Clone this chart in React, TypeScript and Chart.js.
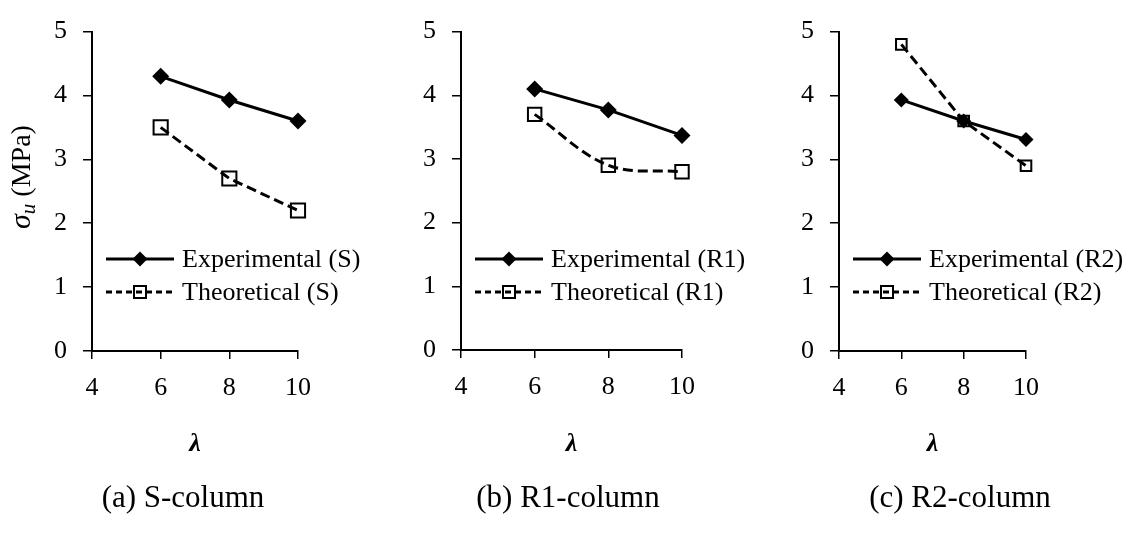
import React, { useEffect, useRef } from 'react';
import { Chart, registerables } from 'chart.js';

Chart.register(...registerables);

// ---- data ----
const lambdaValues = [6, 8, 10];
const xTickValues = [4, 6, 8, 10];
const yTickValues = [0, 1, 2, 3, 4, 5];

const expS = [4.3, 3.93, 3.6];
const theoS = [3.5, 2.7, 2.2];
const expR1 = [4.1, 3.77, 3.37];
const theoR1 = [3.7, 2.9, 2.8];
const expR2 = [3.93, 3.6, 3.31];
const theoR2 = [4.8, 3.6, 2.9];

const seriesNamesS = ['Experimental (S)', 'Theoretical (S)'];
const seriesNamesR1 = ['Experimental (R1)', 'Theoretical (R1)'];
const seriesNamesR2 = ['Experimental (R2)', 'Theoretical (R2)'];

const captions = ['(a) S-column', '(b) R1-column', '(c) R2-column'];
const xAxisTitle = 'λ';
const yTitleSymbol = 'σ';
const yTitleSub = 'u';
const yTitleUnit = ' (MPa)';

const FONT = "'Liberation Serif', 'Times New Roman', serif";

type PanelCfg = {
  left: number;
  axisLeft: number;
  axisRight: number;
  axisTop: number;
  axisBottom: number;
  exp: number[];
  theo: number[];
  names: string[];
  caption: string;
  captionX: number;
  sqR: number;
  diaR: number;
  theoTension: number;
  yTitle: boolean;
};

const panels: PanelCfg[] = [
  { left: 0, axisLeft: 92, axisRight: 298, axisTop: 18, axisBottom: 351, exp: expS, theo: theoS, names: seriesNamesS, caption: captions[0], captionX: 183, sqR: 10, diaR: 8.5, theoTension: 0, yTitle: true },
  { left: 380, axisLeft: 81, axisRight: 302, axisTop: 18, axisBottom: 350, exp: expR1, theo: theoR1, names: seriesNamesR1, caption: captions[1], captionX: 188, sqR: 9.5, diaR: 8.5, theoTension: 0.35, yTitle: false },
  { left: 760, axisLeft: 79, axisRight: 266, axisTop: 18, axisBottom: 351, exp: expR2, theo: theoR2, names: seriesNamesR2, caption: captions[2], captionX: 200, sqR: 7.5, diaR: 7.5, theoTension: 0, yTitle: false },
];

const W = 380;
const H = 533;

function drawDiamond(ctx: CanvasRenderingContext2D, x: number, y: number, r: number) {
  ctx.beginPath();
  ctx.moveTo(x - r, y);
  ctx.lineTo(x, y - r);
  ctx.lineTo(x + r, y);
  ctx.lineTo(x, y + r);
  ctx.closePath();
  ctx.fillStyle = '#000';
  ctx.fill();
}

function drawSquare(ctx: CanvasRenderingContext2D, x: number, y: number, half: number) {
  ctx.beginPath();
  ctx.rect(x - half, y - half, half * 2, half * 2);
  ctx.lineWidth = 2;
  ctx.strokeStyle = '#000';
  ctx.setLineDash([]);
  ctx.stroke();
}

const legendPlugin = {
  id: 'customLegend',
  afterDatasetsDraw(chart: any) {
    const ctx: CanvasRenderingContext2D = chart.ctx;
    const area = chart.chartArea;
    const x0 = area.left + 14;
    const x1 = area.left + 82;
    const xm = area.left + 48;
    const xt = area.left + 90;
    const rows = [259, 292];
    ctx.save();
    chart.data.datasets.forEach((ds: any, i: number) => {
      const y = rows[i];
      ctx.beginPath();
      ctx.lineWidth = 3;
      ctx.strokeStyle = '#000';
      ctx.setLineDash(ds.borderDash && ds.borderDash.length ? [6, 4] : []);
      ctx.moveTo(x0, y);
      ctx.lineTo(x1, y);
      ctx.stroke();
      ctx.setLineDash([]);
      if (ds.pointStyle === 'rectRot') drawDiamond(ctx, xm, y, 7.5);
      else drawSquare(ctx, xm, y, 6);
      ctx.fillStyle = '#000';
      ctx.font = `26px ${FONT}`;
      ctx.textAlign = 'left';
      ctx.textBaseline = 'middle';
      ctx.fillText(ds.label, xt, y + 1);
    });
    ctx.restore();
  },
};

const yTitlePlugin = {
  id: 'yTitle',
  afterDraw(chart: any) {
    if (!chart.options.plugins.yTitle || !chart.options.plugins.yTitle.show) return;
    const ctx: CanvasRenderingContext2D = chart.ctx;
    ctx.save();
    ctx.fillStyle = '#000';
    ctx.textBaseline = 'alphabetic';
    ctx.textAlign = 'left';
    const fMain = `italic 30px ${FONT}`;
    const fSub = `italic 21px ${FONT}`;
    const fUnit = `28px ${FONT}`;
    ctx.font = fMain;
    const w1 = ctx.measureText(yTitleSymbol).width;
    ctx.font = fSub;
    const w2 = ctx.measureText(yTitleSub).width;
    ctx.font = fUnit;
    const w3 = ctx.measureText(yTitleUnit).width;
    const total = w1 + w2 + w3;
    ctx.translate(30, 177);
    ctx.rotate(-Math.PI / 2);
    let x = -total / 2;
    ctx.font = fMain;
    ctx.fillText(yTitleSymbol, x, 0);
    x += w1;
    ctx.font = fSub;
    ctx.fillText(yTitleSub, x, 5);
    x += w2;
    ctx.font = fUnit;
    ctx.fillText(yTitleUnit, x, 0);
    ctx.restore();
  },
};

function Panel({ cfg }: { cfg: PanelCfg }) {
  const ref = useRef<HTMLCanvasElement | null>(null);
  useEffect(() => {
    if (!ref.current) return;
    const xScaleHeight = H - cfg.axisBottom;
    const chart = new Chart(ref.current, {
      type: 'line',
      data: {
        datasets: [
          {
            label: cfg.names[0],
            data: lambdaValues.map((x, i) => ({ x, y: cfg.exp[i] })),
            borderColor: '#000',
            backgroundColor: '#000',
            borderWidth: 3,
            pointStyle: 'rectRot',
            pointRadius: cfg.diaR,
            pointBorderWidth: 0,
            pointBackgroundColor: '#000',
            pointBorderColor: '#000',
            tension: 0,
            clip: false,
          },
          {
            label: cfg.names[1],
            data: lambdaValues.map((x, i) => ({ x, y: cfg.theo[i] })),
            borderColor: '#000',
            backgroundColor: 'rgba(0,0,0,0)',
            borderWidth: 3,
            borderDash: [10, 5],
            pointStyle: 'rect',
            pointRadius: cfg.sqR,
            pointBorderWidth: 2,
            pointBackgroundColor: 'rgba(0,0,0,0)',
            pointBorderColor: '#000',
            tension: cfg.theoTension,
            clip: false,
          },
        ],
      },
      options: {
        responsive: false,
        animation: false,
        events: [],
        layout: {
          padding: { left: 0, top: cfg.axisTop, right: W - cfg.axisRight, bottom: 0 },
        },
        plugins: {
          legend: { display: false },
          tooltip: { enabled: false },
          title: { display: false },
          yTitle: { show: cfg.yTitle },
        } as any,
        scales: {
          x: {
            type: 'linear',
            min: 4,
            max: 10,
            afterBuildTicks: (scale: any) => {
              scale.ticks = xTickValues.map((v) => ({ value: v }));
            },
            afterFit: (scale: any) => {
              scale.height = xScaleHeight;
            },
            ticks: {
              color: '#000',
              font: { family: FONT, size: 26 },
              padding: 14,
              maxRotation: 0,
              autoSkip: false,
            },
            grid: {
              display: true,
              drawOnChartArea: false,
              drawTicks: true,
              tickLength: 8,
              color: '#000',
              lineWidth: 1.5,
            },
            border: { display: true, color: '#000', width: 2 },
            title: {
              display: true,
              text: xAxisTitle,
              color: '#000',
              font: { family: FONT, size: 26, style: 'italic', weight: 'bold', lineHeight: 1 },
              padding: { top: 0, bottom: 76 },
            },
          },
          y: {
            type: 'linear',
            min: 0,
            max: 5,
            afterBuildTicks: (scale: any) => {
              scale.ticks = yTickValues.map((v) => ({ value: v }));
            },
            afterFit: (scale: any) => {
              scale.width = cfg.axisLeft;
            },
            ticks: {
              color: '#000',
              font: { family: FONT, size: 26 },
              padding: 16,
              autoSkip: false,
            },
            grid: {
              display: true,
              drawOnChartArea: false,
              drawTicks: true,
              tickLength: 9,
              color: '#000',
              lineWidth: 1.5,
            },
            border: { display: true, color: '#000', width: 2 },
          },
        },
      },
      plugins: [legendPlugin, yTitlePlugin],
    });
    return () => chart.destroy();
  }, [cfg]);

  return (
    <div style={{ position: 'absolute', left: cfg.left, top: 0, width: W, height: H }}>
      <canvas ref={ref} width={W} height={H} style={{ width: W, height: H, display: 'block' }} />
      <div
        style={{
          position: 'absolute',
          left: cfg.captionX - 150,
          width: 300,
          top: 480,
          textAlign: 'center',
          fontFamily: FONT,
          fontSize: 31,
          lineHeight: '34px',
          color: '#000',
          whiteSpace: 'nowrap',
        }}
      >
        {cfg.caption}
      </div>
    </div>
  );
}

export default function App() {
  return (
    <div style={{ position: 'absolute', left: 0, top: 0, width: 1140, height: 533, background: '#fff', overflow: 'hidden' }}>
      {panels.map((p, i) => (
        <Panel key={i} cfg={p} />
      ))}
    </div>
  );
}
